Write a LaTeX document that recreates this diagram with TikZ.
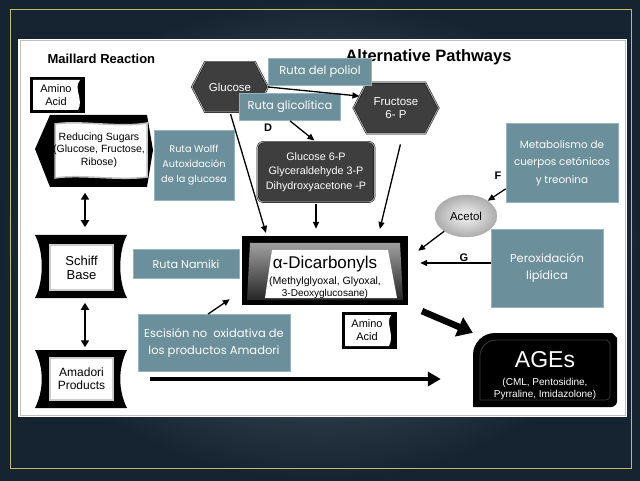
\documentclass[tikz,border=0pt]{standalone}
\usepackage{fontspec}
\setmainfont{Liberation Sans}
\newfontfamily\gothic{Poppins}
\usetikzlibrary{arrows.meta, shapes.geometric, shapes.symbols}
\definecolor{slate}{RGB}{107,143,155}
\definecolor{slateline}{RGB}{150,180,190}
\definecolor{bgdark}{RGB}{22,36,50}
\definecolor{bglight}{RGB}{92,104,112}
\definecolor{framey}{RGB}{190,190,100}
\definecolor{hexgray}{RGB}{62,62,62}

\begin{document}
\begin{tikzpicture}[x=1pt, y=1pt,
  ruta/.style={fill=slate, draw=slateline, line width=0.8pt, text=white, align=center, inner sep=2pt,
    font=\gothic\fontsize{11.5}{17}\selectfont},
  hexa/.style={signal, signal to=west and east, signal pointer angle=125, fill=hexgray, draw=black,
    double=gray!70, double distance=1pt, text=white, align=center, font=\fontsize{11.5}{13}\selectfont, inner sep=1pt},
  mbox/.style={fill=white, draw=gray!40, line width=1.5pt, align=center, inner sep=0pt},
  mtext/.style={align=center, inner sep=0pt},
  letter/.style={font=\bfseries\fontsize{11}{11}\selectfont, inner sep=0pt},
  arr/.style={line width=1.3pt, -{Triangle[length=7pt, width=6pt]}},
  dbl/.style={line width=2pt, {Triangle[length=7pt, width=8pt]}-{Triangle[length=7pt, width=8pt]}},
  longarr/.style={line width=4pt, -{Triangle[length=13pt, width=14pt]}},
  fatarr/.style={line width=6.5pt, -{Triangle[length=15pt, width=20pt]}}]

  \useasboundingbox (0,0) rectangle (640,480);

  % slide and panel
  \shade[inner color=bglight, outer color=bgdark] (0,0) rectangle (640,480);
  \draw[framey, line width=0.8pt] (10,12) rectangle (631,471);
  \fill[white] (18,63) rectangle (627,441);
  \draw[gray!50, line width=1pt] (20,65) rectangle (625,439);

  \node[anchor=base west, font=\bfseries\fontsize{13}{14}\selectfont] (maillard) at (44,416.5) {Maillard Reaction};
  \node[anchor=base west, font=\bfseries\fontsize{16.5}{18}\selectfont] (altpath) at (342,418) {Alternative Pathways};

  %Maillard side
  \fill (30,367) rectangle (85,403);
  \fill[white] (33,370) -- (33,400) -- (80,400) .. controls (73,392) and (84,380) .. (78,370) -- cycle;
  \node[mtext, font=\fontsize{11}{13}\selectfont] (amino) at (56,385) {Amino\\Acid};

  \fill (35,331) -- (50,365) -- (147,365) -- (153,330) -- (147,293) -- (50,293) -- cycle;
  \fill[white, draw=gray!50, line width=1.5pt] (55,356) .. controls (80,360) and (120,352) .. (147,357)
    -- (147,303) .. controls (120,299) and (80,306) .. (55,302) -- cycle;
  \node[mtext, minimum width=92pt, minimum height=53pt, font=\fontsize{10.5}{12.5}\selectfont] (sugars) at (99,330)
    {Reducing Sugars\\(Glucose, Fructose,\\Ribose)};

  \fill (35,245) -- (127,245) .. controls (118,228) and (118,199) .. (127,182)
    -- (35,182) .. controls (44,199) and (44,228) .. (35,245) -- cycle;
  \node[mbox, minimum width=63pt, minimum height=45pt, font=\fontsize{13}{14}\selectfont] (schiff) at (81.5,212.5) {Schiff\\Base};

  \fill (35,130) -- (127,130) .. controls (118,112) and (118,90) .. (127,72)
    -- (35,72) .. controls (44,90) and (44,112) .. (35,130) -- cycle;
  \node[mbox, minimum width=63pt, minimum height=42pt, font=\fontsize{12}{13}\selectfont] (amadori) at (81.5,101) {Amadori\\Products};

  \draw[dbl, shorten <=16pt, shorten >=17pt] ([xshift=-14pt]sugars.south) -- ([xshift=3.5pt]schiff.north);
  \draw[dbl, shorten <=12pt, shorten >=10pt] ([xshift=3.5pt]schiff.south) -- ([xshift=3.5pt]amadori.north);

  %Alternative side
  \node[hexa, minimum width=76pt, minimum height=50pt] (glucose) at (230,393) {Glucose};
  \node[hexa, minimum width=85pt, minimum height=51pt, font=\fontsize{11.5}{12.5}\selectfont] (fructose) at (396,372) {Fructose\\6- P};
  \node[rounded corners=6pt, fill=hexgray, draw=black, double=gray!70, double distance=1pt, text=white,
    minimum width=117pt, minimum height=60pt, align=center, font=\fontsize{10.8}{14.5}\selectfont] (g6p) at (316,308)
    {Glucose 6-P\\Glyceraldehyde 3-P\\Dihydroxyacetone -P};

  \fill (242,175) rectangle (408,244);
  \shade[top color=gray!75, bottom color=black!85] (250,237) -- (400,237) -- (403,180) -- (247,180) -- cycle;
  \fill[white] (272,230) -- (388,230) -- (397,182) -- (265,182) -- cycle;
  \node[minimum width=166pt, minimum height=69pt, inner sep=0pt] (dicarb) at (325,209.5) {};
  \node[mtext] (dicarbtext) at (325,202.5) {\fontsize{17}{18}\selectfont α-Dicarbonyls\\[4pt]
    \fontsize{10.6}{13}\selectfont (Methylglyoxal, Glyoxal,\\3-Deoxyglucosane)};

  \fill (342,131) rectangle (397,168);
  \fill[white] (345,134) -- (345,165) -- (391,165) .. controls (385,157) and (395,145) .. (389,134) -- cycle;
  \node[mtext, font=\fontsize{11}{13}\selectfont] (amino2) at (367,150) {Amino\\Acid};

  \fill (473,73) -- (473,125) arc[start angle=180, end angle=90, radius=22] -- (612,147) -- (617,142)
    -- (617,79) arc[start angle=0, end angle=-90, radius=6] -- cycle;
  \draw[gray!45!black, line width=0.8pt] (480,80) -- (480,124) arc[start angle=180, end angle=90, radius=16]
    -- (607,140) -- (610,137) -- (610,84) arc[start angle=0, end angle=-90, radius=4] -- cycle;
  \node[minimum width=144pt, minimum height=74pt, inner sep=0pt] (ages) at (545,110) {};
  \node[mtext, text=white] (agestext) at (545,104) {\fontsize{23}{24}\selectfont AGEs\\[6pt]
    \fontsize{10}{13}\selectfont (CML, Pentosidine,\\Pyrraline, Imidazolone)};

  \node[ellipse, minimum width=62pt, minimum height=42pt, draw=gray!60, inner color=gray!8, outer color=gray!65,
    font=\fontsize{11.5}{13}\selectfont] (acetol) at (466,264) {Acetol};

  \node[letter] (d) at (268,352) {D};
  \node[letter] (f) at (498,304) {F};
  \node[letter] (g) at (464,222) {G};

  % pathway labels
  \node[ruta, minimum width=80pt, minimum height=70pt, font=\gothic\fontsize{9.7}{15}\selectfont] (wolff) at (194,315)
    {Ruta Wolff\\Autoxidación\\de la glucosa};
  \node[ruta, minimum width=103pt, minimum height=27pt] (poliol) at (320,408) {Ruta del poliol};
  \node[ruta, minimum width=101pt, minimum height=27pt] (glico) at (290,373) {Ruta glicolítica};
  \node[ruta, minimum width=106pt, minimum height=29pt, font=\gothic\fontsize{11.2}{14}\selectfont] (namiki) at (186,216) {Ruta Namiki};
  \node[ruta, minimum width=152pt, minimum height=57pt] (escision) at (214,137) {Escisión no\ \ oxidativa de\\los productos Amadori};
  \node[ruta, minimum width=112pt, minimum height=78pt] (perox) at (547,212) {Peroxidación\\lipídica};
  \node[ruta, minimum width=112pt, minimum height=79pt, font=\gothic\fontsize{10.4}{17.5}\selectfont] (metab) at (562,317)
    {Metabolismo de\\cuerpos cetónicos\\y treonina};

  % connectors
  \draw[arr] (glucose.east) -- (fructose.162);
  \draw[arr, shorten >=2pt] (glico.south) -- (g6p.north);
  \draw[arr, shorten <=2pt, shorten >=3pt] (glucose.south) -- ([xshift=25pt]dicarb.north west);
  \draw[arr, shorten <=2pt, shorten >=7pt] (g6p.south) -- (g6p.south |- dicarb.north);
  \draw[arr, shorten <=11pt, shorten >=7pt] ([xshift=7pt]fructose.south) -- ([xshift=-30pt]dicarb.north east);
  \draw[arr] ([yshift=14pt]metab.south west) -- (acetol.35);
  \draw[arr] (acetol.215) -- ([xshift=10pt, yshift=-15pt]dicarb.north east);
  \draw[arr, shorten >=12pt] ([yshift=5pt]perox.west) -- ([yshift=5pt]perox.west -| dicarb.east);
  \draw[arr] ([xshift=-6pt]escision.north) -- ([xshift=-12pt, yshift=6pt]dicarb.south west);
  \draw[fatarr, shorten <=15pt] (dicarb.south east) -- (ages.north west);
  \draw[longarr, shorten <=36pt, shorten >=32pt] (amadori.east) -- (amadori.east -| ages.west);
\end{tikzpicture}
\end{document}
